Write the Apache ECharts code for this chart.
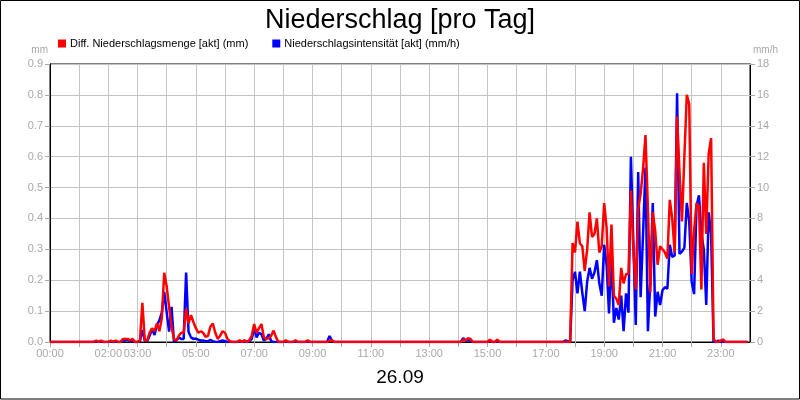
<!DOCTYPE html>
<html>
<head>
<meta charset="utf-8">
<script src="https://cdn.jsdelivr.net/npm/echarts@6/dist/echarts.min.js"></script>
<style>
html,body{margin:0;padding:0;background:#fff;}
#chart{width:800px;height:400px;}
</style>
</head>
<body>
<div id="chart"></div>
<script>
// Sampling step of the series (minutes) and x-axis label hours
const stepMinutes = 5;
const labelHours = [0, 2, 3, 5, 7, 9, 11, 13, 15, 17, 19, 21, 23];
const seriesNames = ['Diff. Niederschlagsmenge [akt] (mm)', 'Niederschlagsintensität [akt] (mm/h)'];
const dateLabel = '26.09';

// Diff. Niederschlagsmenge (mm), one row per hour, 5-minute values
const redMm = [
  0,0,0,0,0,0,0,0,0,0,0,0,                                              // 00
  0,0,0,0,0,0,0,0.005,0,0.005,0,0,                                      // 01
  0,0.005,0,0.005,0,0,0.01,0.01,0.01,0.005,0.01,0,                      // 02
  0,0.005,0.127,0.005,0.005,0.03,0.044,0.035,0.06,0.035,0.077,0.224,    // 03
  0.18,0.114,0.05,0.01,0.005,0.02,0.03,0.03,0.108,0.06,0.087,0.065,     // 04
  0.045,0.03,0.035,0.03,0.017,0.02,0.05,0.06,0.03,0.01,0.02,0.035,      // 05
  0.03,0.01,0.003,0,0,0,0.006,0,0.006,0,0.006,0.02,                     // 06
  0.058,0.03,0.045,0.058,0.015,0.01,0.012,0.02,0.037,0.015,0,0,         // 07
  0,0.006,0,0,0,0.006,0,0,0,0,0.006,0,                                  // 08
  0,0,0,0,0,0,0,0.004,0.006,0,0,0,                                      // 09
  0,0,0,0,0,0,0,0,0,0,0,0,                                              // 10
  0,0,0,0,0,0,0,0,0,0,0,0,                                              // 11
  0,0,0,0,0,0,0,0,0,0,0,0,                                              // 12
  0,0,0,0,0,0,0,0,0,0,0,0,                                              // 13
  0,0,0.008,0.005,0.012,0.01,0,0,0,0,0,0,                               // 14
  0,0.008,0,0,0.008,0,0,0,0,0,0,0,                                      // 15
  0,0,0,0,0,0,0,0,0,0,0,0,                                              // 16
  0,0,0,0,0,0,0,0,0,0,0,0.32,                                           // 17
  0.29,0.39,0.32,0.31,0.23,0.30,0.42,0.34,0.35,0.40,0.29,0.31,          // 18
  0.45,0.37,0.18,0.38,0.15,0.14,0.12,0.24,0.19,0.22,0.22,0.49,          // 19
  0.30,0.17,0.43,0.48,0.56,0.67,0.43,0.16,0.42,0.36,0.25,0.31,          // 20
  0.30,0.29,0.27,0.46,0.40,0.29,0.73,0.55,0.39,0.60,0.80,0.77,          // 21
  0.22,0.36,0.45,0.44,0.17,0.58,0.35,0.61,0.66,0.01,0,0,                // 22
  0.005,0.008,0,0,0,0,0,0,0,0,0,0                                       // 23
];

// Niederschlagsintensität (mm/h), one row per hour, 5-minute values
const blueMmh = [
  0,0,0,0,0,0,0,0,0,0,0,0,                                              // 00
  0,0,0,0,0,0,0,0.05,0,0.05,0,0,                                        // 01
  0,0.05,0,0.05,0,0,0.1,0.1,0.15,0.05,0.1,0,                            // 02
  0,0.05,0.78,0.1,0.05,0.4,0.86,0.45,1.1,1.4,1.9,3.25,                  // 03
  1.94,0.67,2.28,0.05,0.1,0.28,0.2,0.2,4.5,0.67,0.3,0.2,                // 04
  0.22,0.15,0.1,0.1,0.05,0.05,0.15,0.05,0.02,0,0.05,0.1,                // 05
  0.05,0,0,0,0,0,0.05,0,0.05,0,0.05,0.2,                                // 06
  0.89,0.3,0.6,0.5,0.1,0.2,0.5,0.05,0,0,0,0,                            // 07
  0,0.03,0,0,0,0.03,0,0,0,0,0.03,0,                                     // 08
  0,0,0,0,0,0,0,0.39,0.1,0,0,0,                                         // 09
  0,0,0,0,0,0,0,0,0,0,0,0,                                              // 10
  0,0,0,0,0,0,0,0,0,0,0,0,                                              // 11
  0,0,0,0,0,0,0,0,0,0,0,0,                                              // 12
  0,0,0,0,0,0,0,0,0,0,0,0,                                              // 13
  0,0,0.24,0.1,0.12,0.1,0,0,0,0,0,0,                                    // 14
  0,0.08,0,0,0.05,0,0,0,0,0,0,0,                                        // 15
  0,0,0,0,0,0,0,0,0,0,0,0,                                              // 16
  0,0,0,0,0,0,0,0,0.1,0.05,0,4.0,                                       // 17
  4.55,3.15,4.55,3.2,2.0,3.9,4.8,4.1,4.5,5.3,3.8,3.0,                   // 18
  6.3,5.0,1.85,5.7,1.25,2.2,1.45,3.0,0.7,3.15,1.9,12.0,                 // 19
  6.5,1.1,11.0,2.9,7.0,11.3,0.7,4.0,9.0,1.65,3.25,2.4,                  // 20
  3.35,3.55,3.45,6.3,5.5,5.6,16.1,5.7,5.85,6.1,9.0,7.8,                 // 21
  3.9,3.1,8.8,9.5,7.0,6.0,2.4,8.4,7.0,0,0,0.1,                          // 22
  0,0,0,0,0,0,0,0,0,0,0,0                                               // 23
];

const toPairs = arr => arr.map((v, i) => [i * stepMinutes / 60, v]);
const pad = n => (n < 10 ? '0' : '') + n;
const FONT = 'Liberation Sans, Arial, sans-serif';
const GRAY = '#a9a9a9';

const chart = echarts.init(document.getElementById('chart'), null, {renderer: 'canvas'});
chart.setOption({
  animation: false,
  backgroundColor: '#fff',
  textStyle: {fontFamily: FONT},
  title: {
    text: 'Niederschlag [pro Tag]',
    left: 'center', top: 2,
    textStyle: {fontSize: 27, fontWeight: 'normal', color: '#000', fontFamily: FONT}
  },
  legend: {
    left: 58, top: 38, padding: 0,
    itemWidth: 8, itemHeight: 8, itemGap: 24,
    icon: 'rect',
    textStyle: {fontSize: 11, color: '#000', fontFamily: FONT, padding: [0,0,0,-1]},
    data: seriesNames
  },
  grid: {
    left: 50, right: 50, top: 64, bottom: 58,
    show: true, borderColor: '#000', borderWidth: 1
  },
  xAxis: {
    type: 'value', min: 0, max: 24, interval: 1,
    axisLine: {show: true, onZero: false, lineStyle: {color: '#000', width: 1}},
    axisTick: {show: true, length: 5, lineStyle: {color: GRAY}},
    axisLabel: {
      margin: 6, fontSize: 11, color: GRAY, fontFamily: FONT,
      showMinLabel: true, showMaxLabel: false,
      formatter: v => labelHours.indexOf(v) >= 0 ? pad(v) + ':00' : ''
    },
    splitLine: {show: true, lineStyle: {color: '#c4c4c4', width: 1}}
  },
  yAxis: [
    {
      type: 'value', min: 0, max: 0.9, interval: 0.1, position: 'left',
      name: 'mm', nameLocation: 'end', nameGap: 9,
      nameTextStyle: {fontSize: 10, color: GRAY, align: 'right', padding: [0, 2, 0, 0], fontFamily: FONT},
      axisLine: {show: true, lineStyle: {color: '#000'}},
      axisTick: {show: true, length: 5, lineStyle: {color: GRAY}},
      axisLabel: {margin: 7, fontSize: 11, color: GRAY, fontFamily: FONT, formatter: v => v.toFixed(1)},
      splitLine: {show: true, lineStyle: {color: '#c4c4c4', width: 1}}
    },
    {
      type: 'value', min: 0, max: 18, interval: 2, position: 'right',
      name: 'mm/h', nameLocation: 'end', nameGap: 9,
      nameTextStyle: {fontSize: 10, color: GRAY, align: 'left', padding: [0, 0, 0, 3], fontFamily: FONT},
      axisLine: {show: true, lineStyle: {color: '#000'}},
      axisTick: {show: true, length: 5, lineStyle: {color: GRAY}},
      axisLabel: {margin: 7, fontSize: 11, color: GRAY, fontFamily: FONT},
      splitLine: {show: false}
    }
  ],
  series: [
    {
      name: seriesNames[0], type: 'line', yAxisIndex: 0, z: 4,
      showSymbol: false, symbol: 'none',
      itemStyle: {color: '#ff0000'},
      lineStyle: {color: '#ff0000', width: 2.5},
      data: toPairs(redMm)
    },
    {
      name: seriesNames[1], type: 'line', yAxisIndex: 1, z: 3,
      showSymbol: false, symbol: 'none',
      itemStyle: {color: '#0000ff'},
      lineStyle: {color: '#0000ff', width: 2.5},
      data: toPairs(blueMmh)
    }
  ],
  graphic: [
    {type: 'rect', shape: {x: 0.5, y: 0.5, width: 799, height: 398.5}, style: {fill: 'none', stroke: '#000', lineWidth: 1}, silent: true},
    {type: 'text', left: 'center', top: 368, style: {text: dateLabel, fontSize: 19, fill: '#000', fontFamily: FONT}}
  ]
});
</script>
</body>
</html>
